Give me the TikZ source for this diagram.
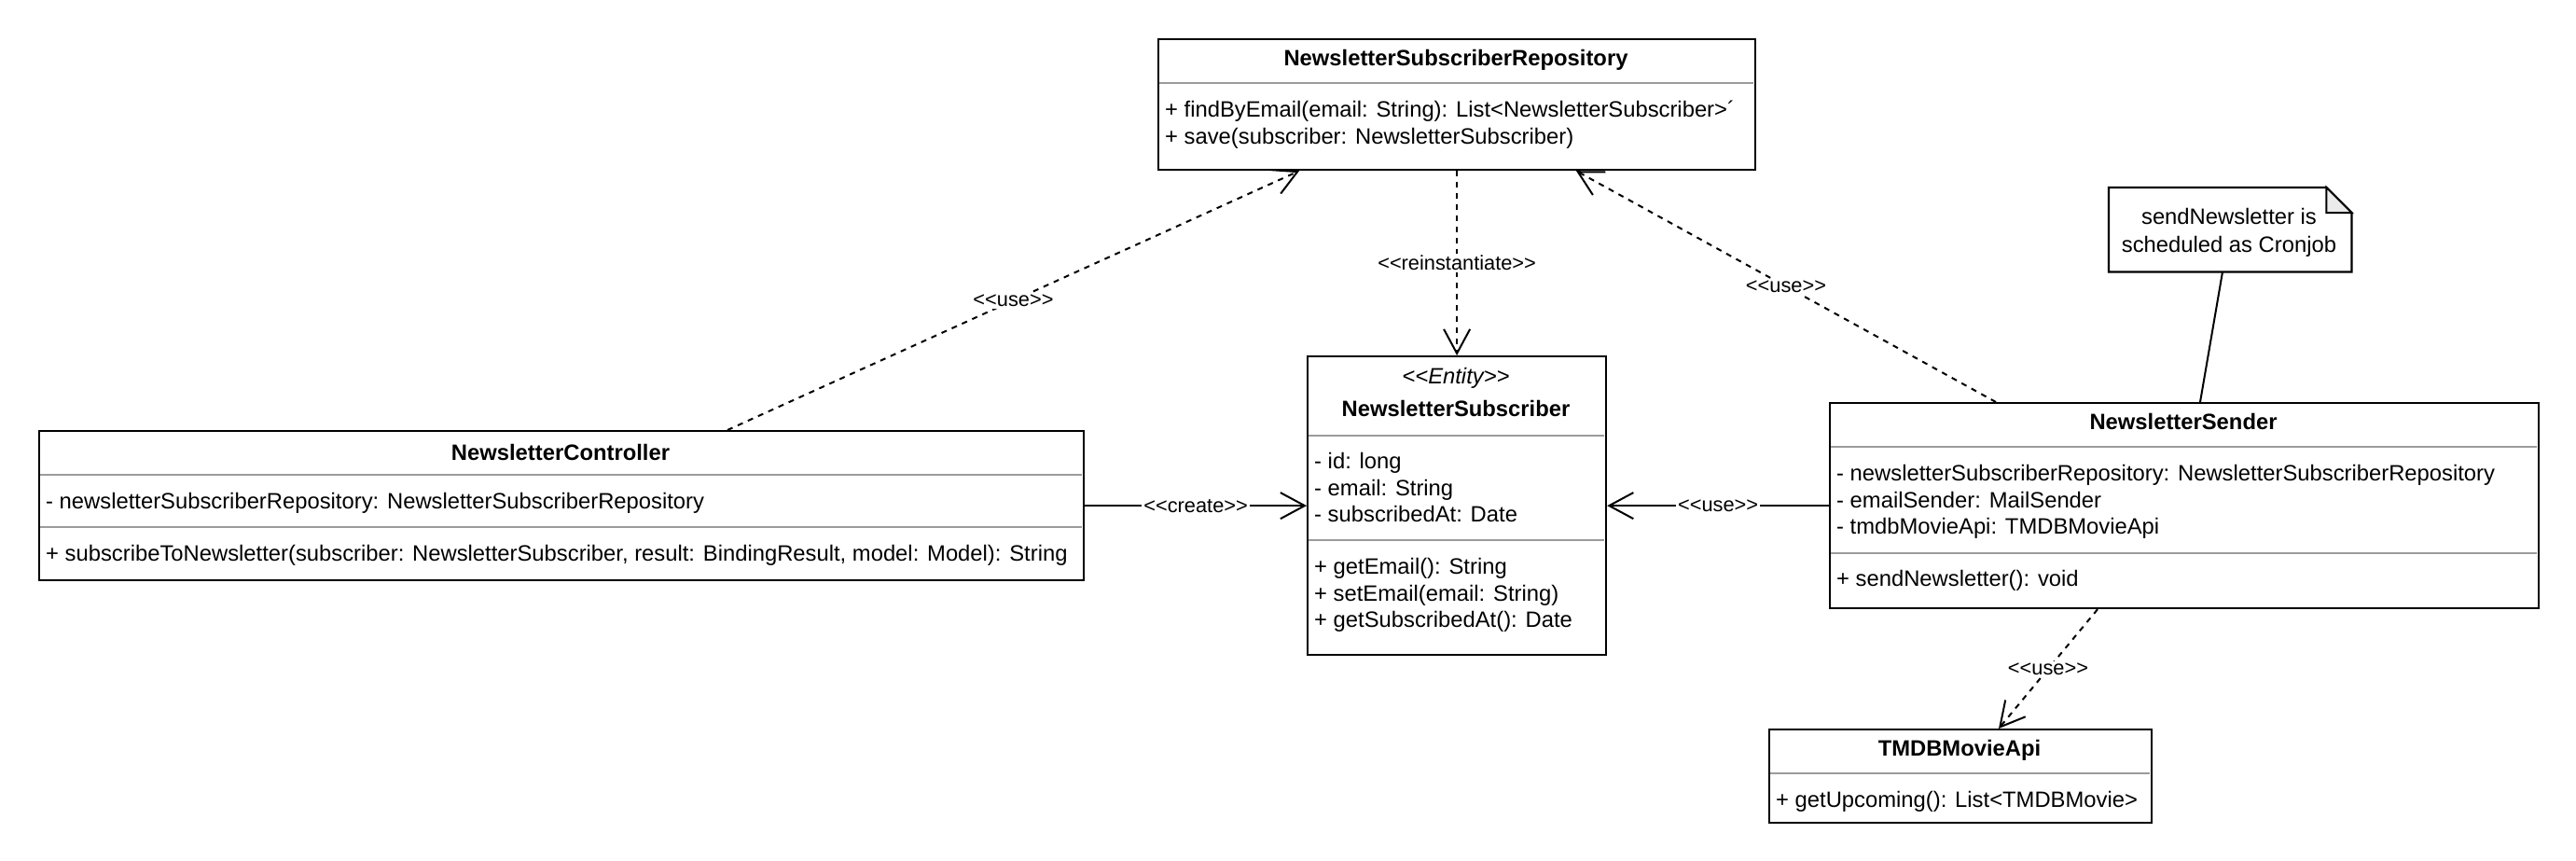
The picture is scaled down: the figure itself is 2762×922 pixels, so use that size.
\documentclass[tikz,border=0pt]{standalone}
\usepackage{fontspec}
\setmainfont{Liberation Sans}[Ligatures=TeXOff]
\usetikzlibrary{arrows.meta,calc}
\definecolor{sepgray}{RGB}{155,155,155}
\definecolor{foldgray}{RGB}{235,235,235}
\tikzset{
  box/.style={draw, line width=2.2pt, rectangle, inner sep=0pt, anchor=north west},
  sepline/.style={draw=sepgray, line width=2pt},
  ttl/.style={font=\bfseries\fontsize{23.8}{28.5}\selectfont, anchor=base, inner sep=0pt},
  stereo/.style={font=\itshape\fontsize{23.8}{28.5}\selectfont, anchor=base, inner sep=0pt},
  mem/.style={font=\fontsize{23.8}{28.5}\selectfont, anchor=base west, inner sep=0pt},
  notetxt/.style={font=\fontsize{23.8}{28.5}\selectfont, anchor=base, inner sep=0pt},
  lbl/.style={font=\fontsize{21.8}{26}\selectfont, fill=white, inner sep=2pt},
  dep/.style={line width=2pt, dash pattern=on 6pt off 6pt, -{Straight Barb[length=26pt,width=28pt]}},
  assoc/.style={line width=2pt, -{Straight Barb[length=26pt,width=28pt]}},
  link/.style={line width=2pt},
}
\begin{document}
\begin{tikzpicture}[x=1pt,y=-1pt]
\useasboundingbox (0,0) rectangle (2762,922);

% separators
\draw[sepline] (1242,89) -- (1880,89);
\draw[sepline] (1402,467) -- (1720,467);
\draw[sepline] (1402,579) -- (1720,579);
\draw[sepline] (42,509) -- (1160,509);
\draw[sepline] (42,565) -- (1160,565);
\draw[sepline] (1962,479) -- (2720,479);
\draw[sepline] (1962,593) -- (2720,593);
\draw[sepline] (1897,829) -- (2305,829);

% class boxes
\node[box, minimum width=640, minimum height=140] (repo) at (1241,41) {};
\node[box, minimum width=320, minimum height=320] (ent) at (1401,381) {};
\node[box, minimum width=1120, minimum height=160] (ctrl) at (41,461) {};
\node[box, minimum width=760, minimum height=220] (send) at (1961,431) {};
\node[box, minimum width=410, minimum height=100] (tmdb) at (1896,781) {};

% note
\node[inner sep=0pt, minimum width=260, minimum height=90, anchor=north west] (note) at (2261,201) {};
\draw[line width=2.2pt, line join=miter] (note.north west) -- ($(note.north east)+(-27,0)$) -- ($(note.north east)+(0,27)$) -- (note.south east) -- (note.south west) -- cycle;
\filldraw[fill=foldgray, line width=2pt, line join=miter] ($(note.north east)+(-27,0)$) -- ($(note.north east)+(-27,27)$) -- ($(note.north east)+(0,27)$) -- cycle;
\node[notetxt] (n1) at (2390,240.5) {sendNewsletter is};
\node[notetxt] (n2) at (2390,270.5) {scheduled as Cronjob};

% repository texts
\node[ttl] (rt) at (1561,70.5) {NewsletterSubscriberRepository};
\node[mem] (r1) at (1249,125) {+ findByEmail(email: String): List<NewsletterSubscriber>´};
\node[mem] (r2) at (1249,154) {+ save(subscriber: NewsletterSubscriber)};

% entity texts
\node[stereo] (es) at (1561,411.5) {<<Entity>>};
\node[ttl] (et) at (1561,446.5) {NewsletterSubscriber};
\node[mem] (e1) at (1409,502.5) {- id: long};
\node[mem] (e2) at (1409,531) {- email: String};
\node[mem] (e3) at (1409,559.5) {- subscribedAt: Date};
\node[mem] (e4) at (1409,615.5) {+ getEmail(): String};
\node[mem] (e5) at (1409,644) {+ setEmail(email: String)};
\node[mem] (e6) at (1409,672) {+ getSubscribedAt(): Date};

% controller texts
\node[ttl] (ct) at (601,493.5) {NewsletterController};
\node[mem] (c1) at (49,545) {- newsletterSubscriberRepository: NewsletterSubscriberRepository};
\node[mem] (c2) at (49,601) {+ subscribeToNewsletter(subscriber: NewsletterSubscriber, result: BindingResult, model: Model): String};

% sender texts
\node[ttl] (st) at (2341,460.5) {NewsletterSender};
\node[mem] (s1) at (1969,515) {- newsletterSubscriberRepository: NewsletterSubscriberRepository};
\node[mem] (s2) at (1969,544) {- emailSender: MailSender};
\node[mem] (s3) at (1969,572.5) {- tmdbMovieApi: TMDBMovieApi};
\node[mem] (s4) at (1969,628.5) {+ sendNewsletter(): void};

% tmdb texts
\node[ttl] (tt) at (2101,810.5) {TMDBMovieApi};
\node[mem] (t1) at (1904,865.5) {+ getUpcoming(): List<TMDBMovie>};

% connectors
\draw[dep] (780,0 |- ctrl.north) -- node[lbl] (l1) {<<use>>} (1393,0 |- repo.south);
\draw[dep] (repo.south) -- node[lbl] (l2) {<<reinstantiate>>} (ent.north);
\draw[dep] (2140,0 |- send.north) -- node[lbl] (l3) {<<use>>} (1690,0 |- repo.south);
\draw[assoc] (ctrl.east) -- node[lbl] (l4) {<<create>>} (ent.west);
\draw[assoc] (send.west) -- node[lbl] (l5) {<<use>>} (ent.east);
\draw[dep] (2249,0 |- send.south) -- node[lbl] (l6) {<<use>>} (2143,0 |- tmdb.north);
\draw[link] (2383,0 |- note.south) -- (2359,0 |- send.north);
\end{tikzpicture}
\end{document}
